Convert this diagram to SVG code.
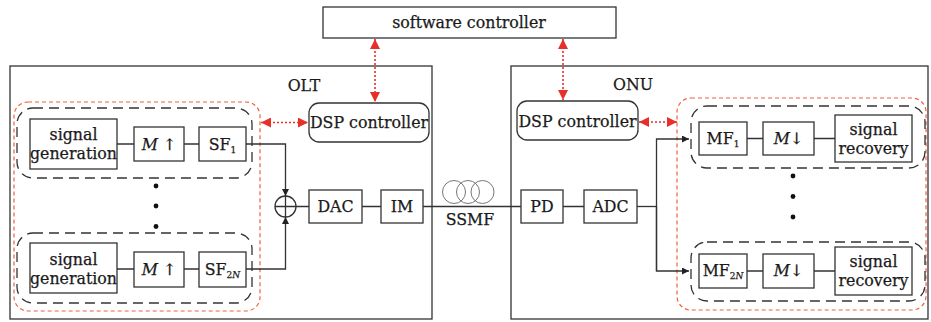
<svg xmlns="http://www.w3.org/2000/svg" width="931" height="322" viewBox="0 0 931 322">
<defs>
<style>
text{font-family:"DejaVu Serif","Liberation Serif",serif;font-size:15.8px;fill:#1a1a1a;stroke:#1a1a1a;stroke-width:0.25;text-anchor:middle}
.sub{font-size:9px}
.box{fill:#fff;stroke:#333;stroke-width:1.3}
.frame{fill:none;stroke:#333;stroke-width:1.3}
.grp{fill:none;stroke:#333;stroke-width:1.3;stroke-dasharray:10 6}
.red{fill:none;stroke:#f2603f;stroke-width:1.2;stroke-dasharray:4 3}
.wire{fill:none;stroke:#333;stroke-width:1.3}
.ctl{fill:none;stroke:#e8302a;stroke-width:1.6;stroke-dasharray:2 2}
.coil{fill:none;stroke:#777;stroke-width:1}
</style>
<marker id="ah" viewBox="0 0 10 10" refX="10" refY="5" markerWidth="7" markerHeight="7" orient="auto" markerUnits="userSpaceOnUse"><path d="M0,0 L10,5 L0,10 z" fill="#222"/></marker>
<marker id="ra" viewBox="0 0 10 10" refX="10" refY="5" markerWidth="10" markerHeight="10" orient="auto-start-reverse" markerUnits="userSpaceOnUse"><path d="M0,0 L10,5 L0,10 z" fill="#e8302a"/></marker>
</defs>

<g id="olt-frame"><rect class="frame" x="10" y="66" width="422" height="253"/><text x="304" y="91">OLT</text></g>
<g id="onu-frame"><rect class="frame" x="511" y="66" width="417" height="253"/><text x="633" y="90">ONU</text></g>

<g id="software-controller"><rect class="box" x="323" y="7" width="293" height="31"/><text x="469" y="28">software controller</text></g>

<g id="olt-dsp"><rect class="box" x="309" y="103" width="120" height="39" rx="10"/><text x="369" y="127.5">DSP controller</text></g>
<g id="onu-dsp"><rect class="box" x="517" y="101" width="121" height="39" rx="10"/><text x="577.5" y="126.5">DSP controller</text></g>

<g id="olt-tx-group"><rect class="red" x="14" y="102" width="246" height="209" rx="14"/></g>
<g id="olt-branch1"><rect class="grp" x="17" y="108" width="235" height="70" rx="16"/></g>
<g id="olt-branch2n"><rect class="grp" x="17" y="233" width="235" height="70" rx="16"/></g>

<g id="siggen1"><rect class="box" x="30" y="119" width="87" height="50"/><text x="73.5" y="139.5">signal</text><text x="73.5" y="158.5">generation</text></g>
<g id="up1"><rect class="box" x="134" y="127" width="50" height="34"/><text x="159" y="149.5"><tspan font-style="italic">M</tspan> ↑</text></g>
<g id="sf1"><rect class="box" x="199" y="127" width="47" height="34"/><text x="222.5" y="149.5">SF<tspan class="sub" dy="3">1</tspan></text></g>

<g id="siggen2n"><rect class="box" x="30" y="243" width="87" height="50"/><text x="73.5" y="264.5">signal</text><text x="73.5" y="283.5">generation</text></g>
<g id="up2n"><rect class="box" x="134" y="252" width="50" height="35"/><text x="159" y="275"><tspan font-style="italic">M</tspan> ↑</text></g>
<g id="sf2n"><rect class="box" x="199" y="252" width="47" height="35"/><text x="222.5" y="275">SF<tspan class="sub" dy="3">2<tspan font-style="italic">N</tspan></tspan></text></g>

<g id="olt-dots" fill="#111"><circle cx="156" cy="186" r="2.4"/><circle cx="156" cy="206" r="2.4"/><circle cx="156" cy="226.5" r="2.4"/></g>

<g id="adder"><circle class="box" cx="285.5" cy="206.5" r="10.5"/><path class="wire" d="M275,206.5 H296 M285.5,196 V217"/></g>
<g id="dac"><rect class="box" x="309" y="190" width="53" height="33"/><text x="335.5" y="212">DAC</text></g>
<g id="im"><rect class="box" x="381" y="190" width="42" height="33"/><text x="402" y="212">IM</text></g>

<g id="ssmf"><circle class="coil" cx="454" cy="192" r="11.5"/><circle class="coil" cx="468" cy="192" r="11.5"/><circle class="coil" cx="482.5" cy="192" r="11.5"/><text x="470" y="225">SSMF</text></g>

<g id="pd"><rect class="box" x="521" y="190" width="42" height="33"/><text x="542" y="212">PD</text></g>
<g id="adc"><rect class="box" x="584" y="190" width="53" height="33"/><text x="610.5" y="212">ADC</text></g>

<g id="onu-rx-group"><rect class="red" x="677" y="98" width="249" height="212" rx="14"/></g>
<g id="onu-branch1"><rect class="grp" x="691" y="106" width="234" height="62" rx="16"/></g>
<g id="onu-branch2n"><rect class="grp" x="691" y="242" width="234" height="59" rx="16"/></g>

<g id="mf1"><rect class="box" x="699" y="122" width="48" height="33"/><text x="723" y="144">MF<tspan class="sub" dy="3">1</tspan></text></g>
<g id="down1"><rect class="box" x="763" y="122" width="51" height="33"/><text x="788.5" y="144"><tspan font-style="italic">M</tspan>↓</text></g>
<g id="sigrec1"><rect class="box" x="835" y="115" width="77" height="47"/><text x="873.5" y="134.5">signal</text><text x="873.5" y="154">recovery</text></g>

<g id="mf2n"><rect class="box" x="699" y="254" width="48" height="34"/><text x="723" y="276">MF<tspan class="sub" dy="3">2<tspan font-style="italic">N</tspan></tspan></text></g>
<g id="down2n"><rect class="box" x="763" y="254" width="51" height="34"/><text x="788.5" y="276"><tspan font-style="italic">M</tspan>↓</text></g>
<g id="sigrec2n"><rect class="box" x="835" y="247" width="77" height="48"/><text x="873.5" y="266.5">signal</text><text x="873.5" y="286">recovery</text></g>

<g id="onu-dots" fill="#111"><circle cx="793" cy="176" r="2.4"/><circle cx="793" cy="196.5" r="2.4"/><circle cx="793" cy="217" r="2.4"/></g>

<g id="connectors">
<path class="wire" d="M117,144 H134 M184,144 H199 M117,269 H134 M184,269 H199"/>
<path class="wire" d="M246,144 H285.5 V196" marker-end="url(#ah)"/>
<path class="wire" d="M246,269 H285.5 V217" marker-end="url(#ah)"/>
<path class="wire" d="M296,206.5 H309 M362,206.5 H381 M423,206.5 H521 M563,206.5 H584"/>
<path class="wire" d="M637,206.5 H656.5"/>
<path class="wire" d="M656.5,271 V139 H689" marker-end="url(#ah)"/>
<path class="wire" d="M656.5,206 V271 H689" marker-end="url(#ah)"/>
<path class="wire" d="M747,138.5 H763 M814,138.5 H835 M747,271 H763 M814,271 H835"/>
<path class="ctl" d="M375,39 V102" marker-start="url(#ra)" marker-end="url(#ra)"/>
<path class="ctl" d="M563,39 V100" marker-start="url(#ra)" marker-end="url(#ra)"/>
<path class="ctl" d="M261,122.5 H308" marker-start="url(#ra)" marker-end="url(#ra)"/>
<path class="ctl" d="M639,122 H677" marker-start="url(#ra)" marker-end="url(#ra)"/>
</g>
</svg>
